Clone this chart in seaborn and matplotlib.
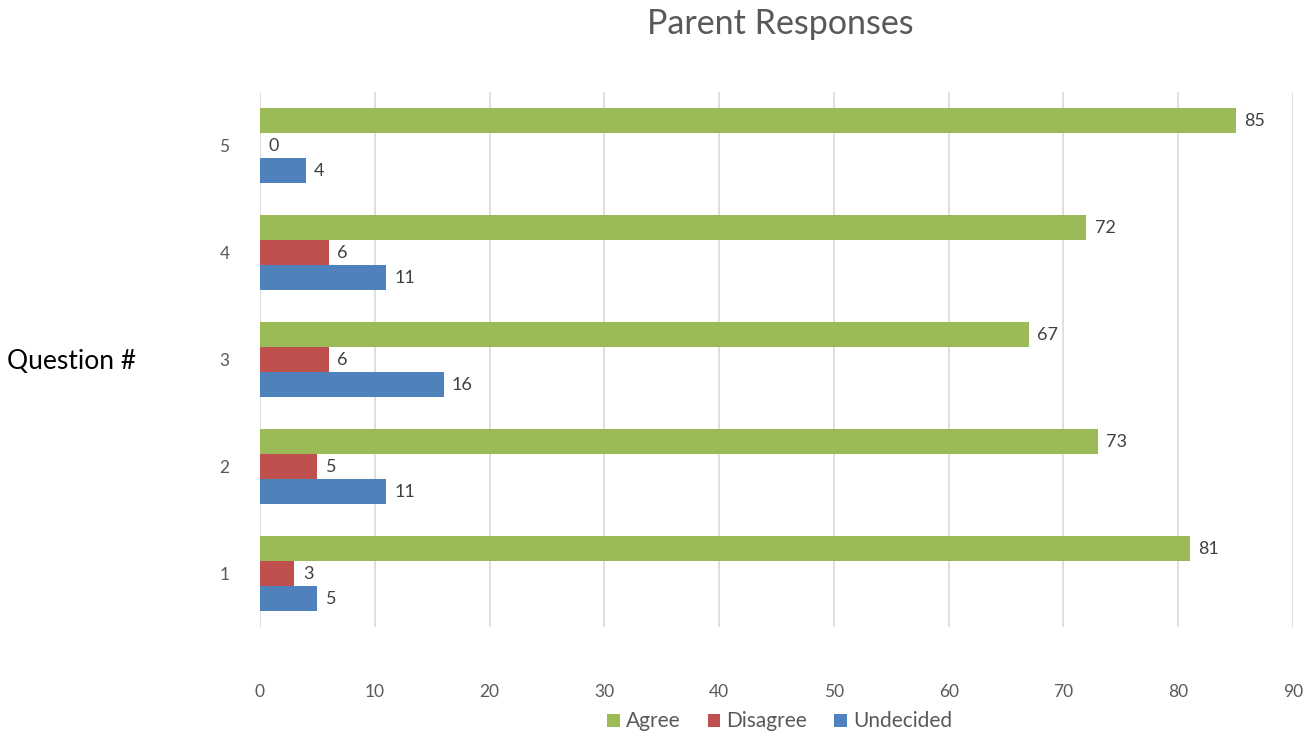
import numpy as np
import pandas as pd
import seaborn as sns
import matplotlib.pyplot as plt

questions = ['5', '4', '3', '2', '1']
agree = [85, 72, 67, 73, 81]
disagree = [0, 6, 6, 5, 3]
undecided = [4, 11, 16, 11, 5]
responses = ['Agree', 'Disagree', 'Undecided']
colors = ['#9BBB59', '#C0504D', '#4F81BD']

df = pd.DataFrame({'question': questions, 'Agree': agree,
                   'Disagree': disagree, 'Undecided': undecided})
df = df.melt(id_vars='question', var_name='response', value_name='count')

sns.set_style('white')
plt.rcParams['font.family'] = ['Lato', 'DejaVu Sans']

fig = plt.figure(figsize=(13.11, 7.38), dpi=100)
ax = fig.add_axes([0.1983, 0.150, 0.7880, 0.725])

sns.barplot(data=df, y='question', x='count', hue='response', order=questions,
            hue_order=responses, palette=colors, orient='h', width=0.7,
            saturation=1, linewidth=0, edgecolor='none', ax=ax)

for c in ax.containers:
    ax.bar_label(c, padding=6, fontsize=13, color='#404040')

ax.set_xlim(0, 90)
ax.set_xticks(np.arange(0, 91, 10))
ax.grid(axis='x', color='#D9D9D9', linewidth=1.2)
ax.set_axisbelow(True)
sns.despine(ax=ax, left=True, bottom=True)
ax.tick_params(axis='x', length=0, pad=41, labelsize=12.5, labelcolor='#595959')
ax.tick_params(axis='y', length=0, pad=22, labelsize=12.5, labelcolor='#595959')

ax.set_xlabel('')
ax.set_ylabel('Question #', rotation=0, fontsize=19, color='black',
              ha='center', va='center')
ax.yaxis.set_label_coords(-0.182, 0.496)

fig.suptitle('Parent Responses', x=0.595, y=0.968, va='center',
             fontsize=24.5, color='#595959')

sns.move_legend(ax, 'center', bbox_to_anchor=(0.503, -0.176), ncol=3,
                frameon=False, title=None, fontsize=15, handlelength=0.6,
                handleheight=0.6, handletextpad=0.3, columnspacing=1.3)
for t in ax.get_legend().get_texts():
    t.set_color('#595959')

plt.savefig('out.png', dpi=100)
